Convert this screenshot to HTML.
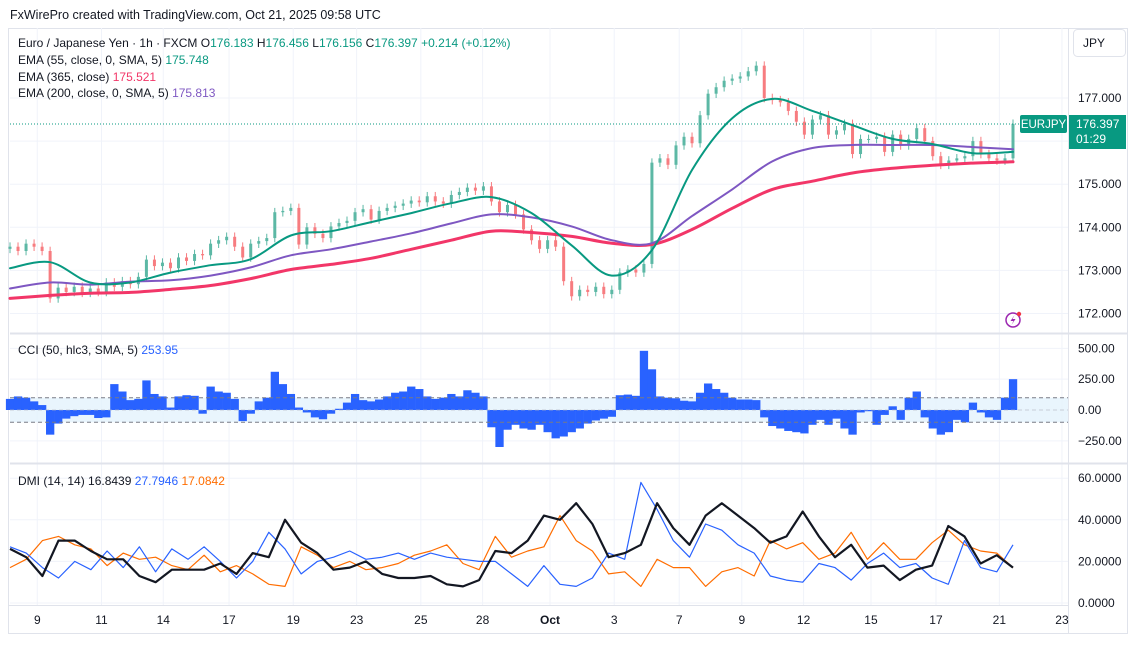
<!DOCTYPE html>
<html><head><meta charset="utf-8">
<style>
html,body{margin:0;padding:0;background:#fff;}
svg{display:block;font-family:"Liberation Sans",sans-serif;}
</style></head>
<body>
<svg id="chart" width="1128" height="647" viewBox="0 0 1128 647">
  <rect x="0" y="0" width="1128" height="647" fill="#fff"/>
  <text x="10" y="19" font-size="12.5" fill="#131722">FxWirePro created with TradingView.com, Oct 21, 2025 09:58 UTC</text>
  <rect x="8.5" y="28.5" width="1119" height="605" fill="none" stroke="#e0e3eb"/>
  <g id="grid"></g>
  <rect x="10" y="397.7" width="1058" height="24.6" fill="#e3f2fd" opacity="0.8"/>
  <g id="cciBars"></g>
  <line x1="10" y1="397.7" x2="1068" y2="397.7" stroke="#787b86" stroke-dasharray="4,3"/>
  <line x1="10" y1="422.3" x2="1068" y2="422.3" stroke="#787b86" stroke-dasharray="4,3"/>
  <line x1="10" y1="410" x2="1068" y2="410" stroke="#b2b5be" stroke-dasharray="4,3" opacity="0.6"/>
  <g id="candles"></g>
  <g id="emas"></g>
  <g id="dmi"></g>
  <line x1="10" y1="333.5" x2="1128" y2="333.5" stroke="#e0e3eb" stroke-width="2"/>
  <line x1="10" y1="463.5" x2="1128" y2="463.5" stroke="#e0e3eb" stroke-width="2"/>
  <line x1="1068.5" y1="28" x2="1068.5" y2="633" stroke="#e0e3eb"/>
  <line x1="8" y1="605.5" x2="1068" y2="605.5" stroke="#e0e3eb"/>
  <g id="axes" font-size="12" fill="#131722"></g>

  <g font-size="12">
    <text x="18" y="47" fill="#131722">Euro / Japanese Yen · 1h · FXCM <tspan fill="#131722">O</tspan><tspan fill="#089981">176.183</tspan> <tspan fill="#131722">H</tspan><tspan fill="#089981">176.456</tspan> <tspan fill="#131722">L</tspan><tspan fill="#089981">176.156</tspan> <tspan fill="#131722">C</tspan><tspan fill="#089981">176.397</tspan> <tspan fill="#089981">+0.214 (+0.12%)</tspan></text>
    <text x="18" y="64" fill="#131722">EMA (55, close, 0, SMA, 5) <tspan fill="#089981">175.748</tspan></text>
    <text x="18" y="81" fill="#131722">EMA (365, close) <tspan fill="#f23668">175.521</tspan></text>
    <text x="18" y="97" fill="#131722">EMA (200, close, 0, SMA, 5) <tspan fill="#7e57c2">175.813</tspan></text>
  </g>
  <text x="18" y="354" font-size="12" fill="#131722">CCI (50, hlc3, SMA, 5) <tspan fill="#2962ff">253.95</tspan></text>
  <text x="18" y="485" font-size="12" fill="#131722">DMI (14, 14) <tspan fill="#131722">16.8439</tspan> <tspan fill="#2962ff">27.7946</tspan> <tspan fill="#ff6d00">17.0842</tspan></text>

  <line x1="10" y1="124" x2="1068" y2="124" stroke="#089981" stroke-dasharray="1,2"/>
  <g>
    <rect x="1073.5" y="29.5" width="52" height="27" rx="4" fill="#fff" stroke="#e0e3eb"/>
    <text x="1083" y="47" font-size="12" fill="#131722">JPY</text>
  </g>
  <g>
    <rect x="1020" y="115" width="47" height="18" rx="2" fill="#089981"/>
    <text x="1043.5" y="128" font-size="11.5" fill="#fff" text-anchor="middle">EURJPY</text>
  </g>
  <g>
    <rect x="1069" y="115" width="57" height="34" fill="#089981"/>
    <text x="1076" y="128" font-size="12" fill="#fff">176.397</text>
    <text x="1076" y="143" font-size="12" fill="#fff">01:29</text>
  </g>
  <g>
    <circle cx="1013" cy="320" r="7" fill="none" stroke="#9c27b0" stroke-width="1.5"/>
    <path d="M1014.5 315 L1010.5 321 L1013.5 321 L1011.5 325 L1015.5 319 L1012.5 319 Z" fill="#9c27b0"/>
    <circle cx="1019" cy="314" r="2.2" fill="#f23645"/>
  </g>
</svg>
<script>
// ---- data ----
const closes = [173.55,173.45,173.62,173.55,173.45,172.35,172.6,172.5,172.62,172.48,172.58,172.5,172.72,172.62,172.75,172.68,172.85,173.25,173.1,173.18,173.05,173.3,173.22,173.38,173.35,173.62,173.7,173.78,173.55,173.3,173.62,173.68,173.75,174.35,174.38,174.45,173.6,174.0,173.85,173.75,174.02,174.1,174.15,174.35,174.42,174.18,174.38,174.45,174.5,174.55,174.62,174.58,174.72,174.6,174.55,174.75,174.82,174.92,174.85,174.95,174.6,174.35,174.52,174.3,173.95,173.7,173.5,173.7,173.55,172.75,172.4,172.55,172.5,172.62,172.45,172.55,172.95,173.02,172.95,173.15,175.5,175.6,175.45,175.9,176.1,175.95,176.6,177.1,177.25,177.4,177.45,177.5,177.62,177.75,177.0,176.95,176.9,176.7,176.45,176.15,176.5,176.6,176.15,176.25,176.4,175.7,176.05,176.05,176.1,175.75,176.15,175.9,176.05,176.3,176.0,175.65,175.45,175.55,175.6,175.65,176.0,175.7,175.6,175.55,175.6,176.40];
const ema55 = [173.05,173.19,172.72,172.72,172.95,173.12,173.26,173.81,173.91,174.12,174.33,174.56,174.70,174.33,173.58,172.88,173.47,175.33,176.53,176.98,176.70,176.37,176.05,175.93,175.72,175.75];
const ema200 = [172.58,172.72,172.67,172.74,172.77,172.88,173.07,173.35,173.49,173.67,173.86,174.09,174.30,174.23,174.02,173.70,173.63,174.26,174.88,175.53,175.84,175.91,175.91,175.91,175.86,175.81];
const ema365 = [172.35,172.42,172.47,172.49,172.56,172.65,172.81,173.02,173.14,173.28,173.49,173.70,173.91,173.88,173.79,173.63,173.60,173.95,174.44,174.88,175.07,175.26,175.37,175.44,175.49,175.52];
const cci = [90,110,100,70,40,-200,-110,-70,-50,-40,-40,-65,-60,210,150,80,90,240,130,110,20,110,120,115,-30,190,150,140,90,-90,-30,70,100,310,210,130,20,-20,-60,-75,-30,10,60,130,80,70,85,110,140,150,190,170,110,90,100,130,110,160,140,110,-140,-300,-160,-120,-150,-160,-120,-180,-230,-215,-180,-150,-110,-85,-70,-55,120,125,115,480,330,110,100,95,75,70,140,215,170,140,100,85,85,80,-60,-130,-150,-170,-180,-190,-120,-80,-120,-70,-150,-200,-20,-10,-120,-40,30,-80,100,150,-60,-150,-200,-180,-80,-100,60,-20,-60,-80,100,250];
const adx = [26,22,13,30,30,25,21,21,13,10,16,16,16,19,14,24,22,40,29,24,16,17,20,14,12,12,13,9,8,11,25,24,30,42,40,48,38,22,24,28,48,36,28,42,48,42,36,29,32,44,32,22,28,17,18,11,16,18,37,32,19,23,17];
const plusDI = [27,24,17,12,20,16,25,17,27,15,26,21,27,20,12,20,34,26,14,20,22,25,21,22,24,21,24,22,21,20,20,14,8,18,9,8,12,24,21,58,45,30,22,38,35,28,24,13,11,10,19,17,11,19,24,17,19,12,9,30,17,15,28];
const minusDI = [17,21,30,32,28,26,18,24,21,22,18,16,23,15,18,14,9,8,27,23,17,20,16,17,19,23,25,28,19,16,32,22,25,27,42,30,25,14,15,8,21,17,17,8,15,17,13,30,26,29,21,24,34,21,29,21,21,29,35,28,25,24,17];
const priceTicks = [177,176,175,174,173,172];
const priceTickLabels = ["177.000","","175.000","174.000","173.000","172.000"];
const cciTicks = [500,250,0,-250];
const cciTickLabels = ["500.00","250.00","0.00","\u2212250.00"];
const dmiTicks = [60,40,20,0];
const dmiTickLabels = ["60.0000","40.0000","20.0000","0.0000"];
const timeTickPos = [3.4,11.4,19.1,27.3,35.3,43.2,51.2,58.9,67.3,75.3,83.4,91.2,98.9,107.3,115.4,123.3,131.1];
const timeTickLabels = ["9","11","14","17","19","23","25","28","Oct","3","7","9","12","15","17","21","23"];

// ---- scales ----
const xS = t => 10 + t*8.024;
const pY = p => 98 + (177-p)*43.1;
const cY = v => 410 - v*0.1233;
const dY = v => 603 - v*2.08;
const NS = "http://www.w3.org/2000/svg";
function mk(tag, attrs, parent){const e=document.createElementNS(NS,tag);for(const k in attrs)e.setAttribute(k,attrs[k]);parent.appendChild(e);return e;}
function smoothPath(pts){
  let d = 'M'+pts[0][0].toFixed(1)+' '+pts[0][1].toFixed(1);
  for(let i=0;i<pts.length-1;i++){
    const p0=pts[Math.max(0,i-1)],p1=pts[i],p2=pts[i+1],p3=pts[Math.min(pts.length-1,i+2)];
    const c1x=p1[0]+(p2[0]-p0[0])/6,c1y=p1[1]+(p2[1]-p0[1])/6;
    const c2x=p2[0]-(p3[0]-p1[0])/6,c2y=p2[1]-(p3[1]-p1[1])/6;
    d+=' C'+c1x.toFixed(1)+' '+c1y.toFixed(1)+' '+c2x.toFixed(1)+' '+c2y.toFixed(1)+' '+p2[0].toFixed(1)+' '+p2[1].toFixed(1);
  }
  return d;
}

const grid = document.getElementById('grid');
const axes = document.getElementById('axes');
timeTickPos.forEach((t,i)=>{
  const l = mk('line',{x1:xS(t),x2:xS(t),y1:28,y2:605,stroke:'#f0f3fa'},grid);
  
  
  const tx = mk('text',{x:xS(t),y:624,'text-anchor':'middle','font-weight':timeTickLabels[i]==='Oct'?'bold':'normal'},axes);
  tx.textContent = timeTickLabels[i];
  
  
});
priceTicks.forEach((p,i)=>{
  const l = mk('line',{x1:10,x2:1068,y1:pY(p),y2:pY(p),stroke:'#f0f3fa'},grid);
  
  
  if(priceTickLabels[i]){
    const tx = mk('text',{x:1078,y:pY(p)+4},axes);
    tx.textContent = priceTickLabels[i];
    
    
  }
});
cciTicks.forEach((v,i)=>{
  const l = mk('line',{x1:10,x2:1068,y1:cY(v),y2:cY(v),stroke:'#f0f3fa'},grid);
  
  
  const tx = mk('text',{x:1078,y:cY(v)+4},axes);
  tx.textContent = cciTickLabels[i];
  
  
});
dmiTicks.forEach((v,i)=>{
  const l = mk('line',{x1:10,x2:1068,y1:dY(v),y2:dY(v),stroke:'#f0f3fa'},grid);
  
  
  const tx = mk('text',{x:1078,y:dY(v)+4},axes);
  tx.textContent = dmiTickLabels[i];
  
  
});

// candles
const cg = document.getElementById('candles');
closes.forEach((c,i)=>{
  const o = i===0 ? c-0.05 : closes[i-1];
  const up = c>=o;
  const col = up ? '#5cb8a5' : '#f77c80';
  const hi = Math.max(o,c)+0.1, lo = Math.min(o,c)-0.1;
  const x = xS(i);
  const w = mk('line',{x1:x,x2:x,y1:pY(hi),y2:pY(lo),stroke:col,'stroke-width':1},cg);
  
  
  const top = pY(Math.max(o,c)), h = Math.max(1, Math.abs(pY(o)-pY(c)));
  const b = mk('rect',{x:x-1.5,y:top,width:3,height:h,fill:col},cg);
  
  
});

// EMAs (sampled every 5 candles)
const eg = document.getElementById('emas');
function emaLine(arr,color,width,name){
  const pts = arr.map((v,j)=>[xS(j*5),pY(v)]);
  const p = mk('path',{d:smoothPath(pts),fill:'none',stroke:color,'stroke-width':width,'stroke-linejoin':'round','stroke-linecap':'round'},eg);
  
  
}
emaLine(ema365,'#f23668',3,'ema365-line');
emaLine(ema200,'#7e57c2',2,'ema200-line');
emaLine(ema55,'#089981',2,'ema55-line');

// CCI histogram
const hg = document.getElementById('cciBars');
cci.forEach((v,i)=>{
  const y0 = cY(0), y1 = cY(v);
  const r = mk('rect',{x:xS(i)-4.1,y:Math.min(y0,y1),width:8.3,height:Math.abs(y1-y0),fill:'#2962ff'},hg);
  
  
});

// DMI lines (62 intervals across 125 candles)
const dg = document.getElementById('dmi');
function dmiLine(arr,color,width,name){
  const d = arr.map((v,j)=>(j?'L':'M')+xS(j*125/62).toFixed(1)+' '+dY(v).toFixed(1)).join(' ');
  const p = mk('path',{d:d,fill:'none',stroke:color,'stroke-width':width,'stroke-linejoin':'round'},dg);
  
  
}
dmiLine(minusDI,'#ff6d00',1.2,'minus-di-line');
dmiLine(plusDI,'#2962ff',1.2,'plus-di-line');
dmiLine(adx,'#131722',2.2,'adx-line');
</script>
</body></html>
